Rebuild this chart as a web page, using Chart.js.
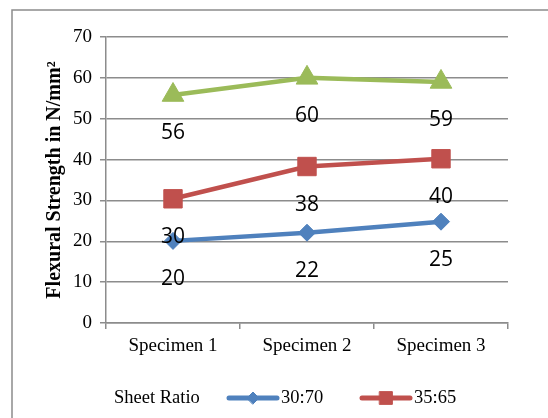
<!DOCTYPE html>
<html>
<head>
<meta charset="utf-8">
<script src="https://cdn.jsdelivr.net/npm/chart.js@4/dist/chart.umd.min.js"></script>
<style>
  html, body { margin: 0; padding: 0; background: #fff; }
  #wrap { width: 548px; height: 418px; }
</style>
</head>
<body>
<div id="wrap"><canvas id="c" width="548" height="418"></canvas></div>
<script>
// Flexural strength by specimen for three sheet ratios
const categories = ['Specimen 1', 'Specimen 2', 'Specimen 3'];
const ratio3070 = [20.1, 22.1, 24.8];
const ratio3565 = [30.4, 38.3, 40.2];
const ratio4060 = [55.8, 60.0, 59.0];
const yTicks = [0, 10, 20, 30, 40, 50, 60, 70];

const seriesNames = ['30:70', '35:65', '40:60'];
const seriesColors = ['#4F81BD', '#C0504D', '#9BBB59'];
const seriesMarkers = ['rectRot', 'rect', 'triangle'];
const markerRadius = [8.5, 13, 12.5];

const serif = '"Liberation Serif", "Times New Roman", serif';

// White background and a thin frame around the figure
const framePlugin = {
  id: 'frame',
  beforeDraw(chart) {
    const ctx = chart.ctx;
    ctx.save();
    ctx.fillStyle = '#fff';
    ctx.fillRect(0, 0, chart.width, chart.height);
    ctx.strokeStyle = '#8c8c8c';
    ctx.lineWidth = 1.5;
    ctx.strokeRect(12, 10, chart.width + 20, chart.height + 20);
    ctx.restore();
  }
};

// Rounded values written below each marker
const valueLabels = {
  id: 'valueLabels',
  afterDatasetsDraw(chart) {
    const ctx = chart.ctx;
    ctx.save();
    ctx.font = '21px "Open Sans", "Liberation Sans", sans-serif';
    ctx.fillStyle = '#000';
    ctx.textAlign = 'center';
    ctx.textBaseline = 'middle';
    chart.data.datasets.forEach((ds, i) => {
      const meta = chart.getDatasetMeta(i);
      meta.data.forEach((pt, j) => {
        ctx.fillText(String(Math.round(ds.data[j])), pt.x, pt.y + 38);
      });
    });
    ctx.restore();
  }
};

// Vertical axis title
const yTitle = {
  id: 'yTitle',
  afterDraw(chart) {
    const ctx = chart.ctx;
    const area = chart.chartArea;
    ctx.save();
    ctx.translate(55, (area.top + area.bottom) / 2);
    ctx.rotate(-Math.PI / 2);
    ctx.font = 'bold 20px ' + serif;
    ctx.fillStyle = '#000';
    ctx.textAlign = 'center';
    ctx.textBaseline = 'middle';
    ctx.fillText('Flexural Strength in N/mm\u00B2', 0, 0);
    ctx.restore();
  }
};

// Legend row along the bottom: "Sheet Ratio" followed by line+marker keys
const legendRow = {
  id: 'legendRow',
  afterDraw(chart) {
    const ctx = chart.ctx;
    const y = 398;
    ctx.save();
    ctx.font = '18.5px ' + serif;
    ctx.fillStyle = '#000';
    ctx.textBaseline = 'middle';
    ctx.textAlign = 'left';
    ctx.fillText('Sheet Ratio', 114, y);
    const keys = [{ i: 0, x: 229 }, { i: 1, x: 362 }];
    keys.forEach(k => {
      const ds = chart.data.datasets[k.i];
      ctx.strokeStyle = ds.borderColor;
      ctx.lineWidth = 5;
      ctx.lineCap = 'round';
      ctx.beginPath();
      ctx.moveTo(k.x, y);
      ctx.lineTo(k.x + 48, y);
      ctx.stroke();
      ctx.fillStyle = ds.backgroundColor;
      ctx.strokeStyle = ds.borderColor;
      ctx.lineWidth = 1;
      Chart.helpers.drawPoint(ctx, {
        pointStyle: ds.pointStyle,
        radius: k.i === 0 ? 6 : 9,
        rotation: 0,
        borderWidth: 1
      }, k.x + 24, y);
      ctx.fillStyle = '#000';
      ctx.fillText(ds.label, k.x + 52, y);
    });
    ctx.restore();
  }
};

const seriesData = [ratio3070, ratio3565, ratio4060];

new Chart(document.getElementById('c'), {
  type: 'line',
  data: {
    labels: categories,
    datasets: seriesData.map((d, i) => ({
      label: seriesNames[i],
      data: d,
      borderColor: seriesColors[i],
      backgroundColor: seriesColors[i],
      borderWidth: 4.5,
      pointStyle: seriesMarkers[i],
      pointRadius: markerRadius[i],
      pointHoverRadius: markerRadius[i],
      pointBorderWidth: 1,
      tension: 0,
      fill: false
    }))
  },
  options: {
    responsive: false,
    animation: false,
    events: [],
    layout: { padding: { left: 0, top: 37, right: 40, bottom: 0 } },
    plugins: {
      legend: { display: false },
      tooltip: { enabled: false },
      title: { display: false }
    },
    scales: {
      x: {
        offset: true,
        afterFit(scale) { scale.height = 95; },
        grid: {
          offset: true,
          drawOnChartArea: false,
          drawTicks: true,
          tickLength: 6,
          color: '#8c8c8c',
          lineWidth: 1.5
        },
        border: { color: '#8c8c8c', width: 1.5 },
        ticks: {
          color: '#000',
          font: { family: serif, size: 19 },
          padding: 6,
          maxRotation: 0
        }
      },
      y: {
        min: 0,
        max: 70,
        afterFit(scale) { scale.width = 106; },
        afterBuildTicks(scale) { scale.ticks = yTicks.map(v => ({ value: v })); },
        grid: {
          color: '#8c8c8c',
          lineWidth: 1.5,
          tickLength: 6
        },
        border: { color: '#8c8c8c', width: 1.5 },
        ticks: {
          color: '#000',
          font: { family: serif, size: 19 },
          padding: 8
        }
      }
    }
  },
  plugins: [framePlugin, valueLabels, yTitle, legendRow]
});
</script>
</body>
</html>
